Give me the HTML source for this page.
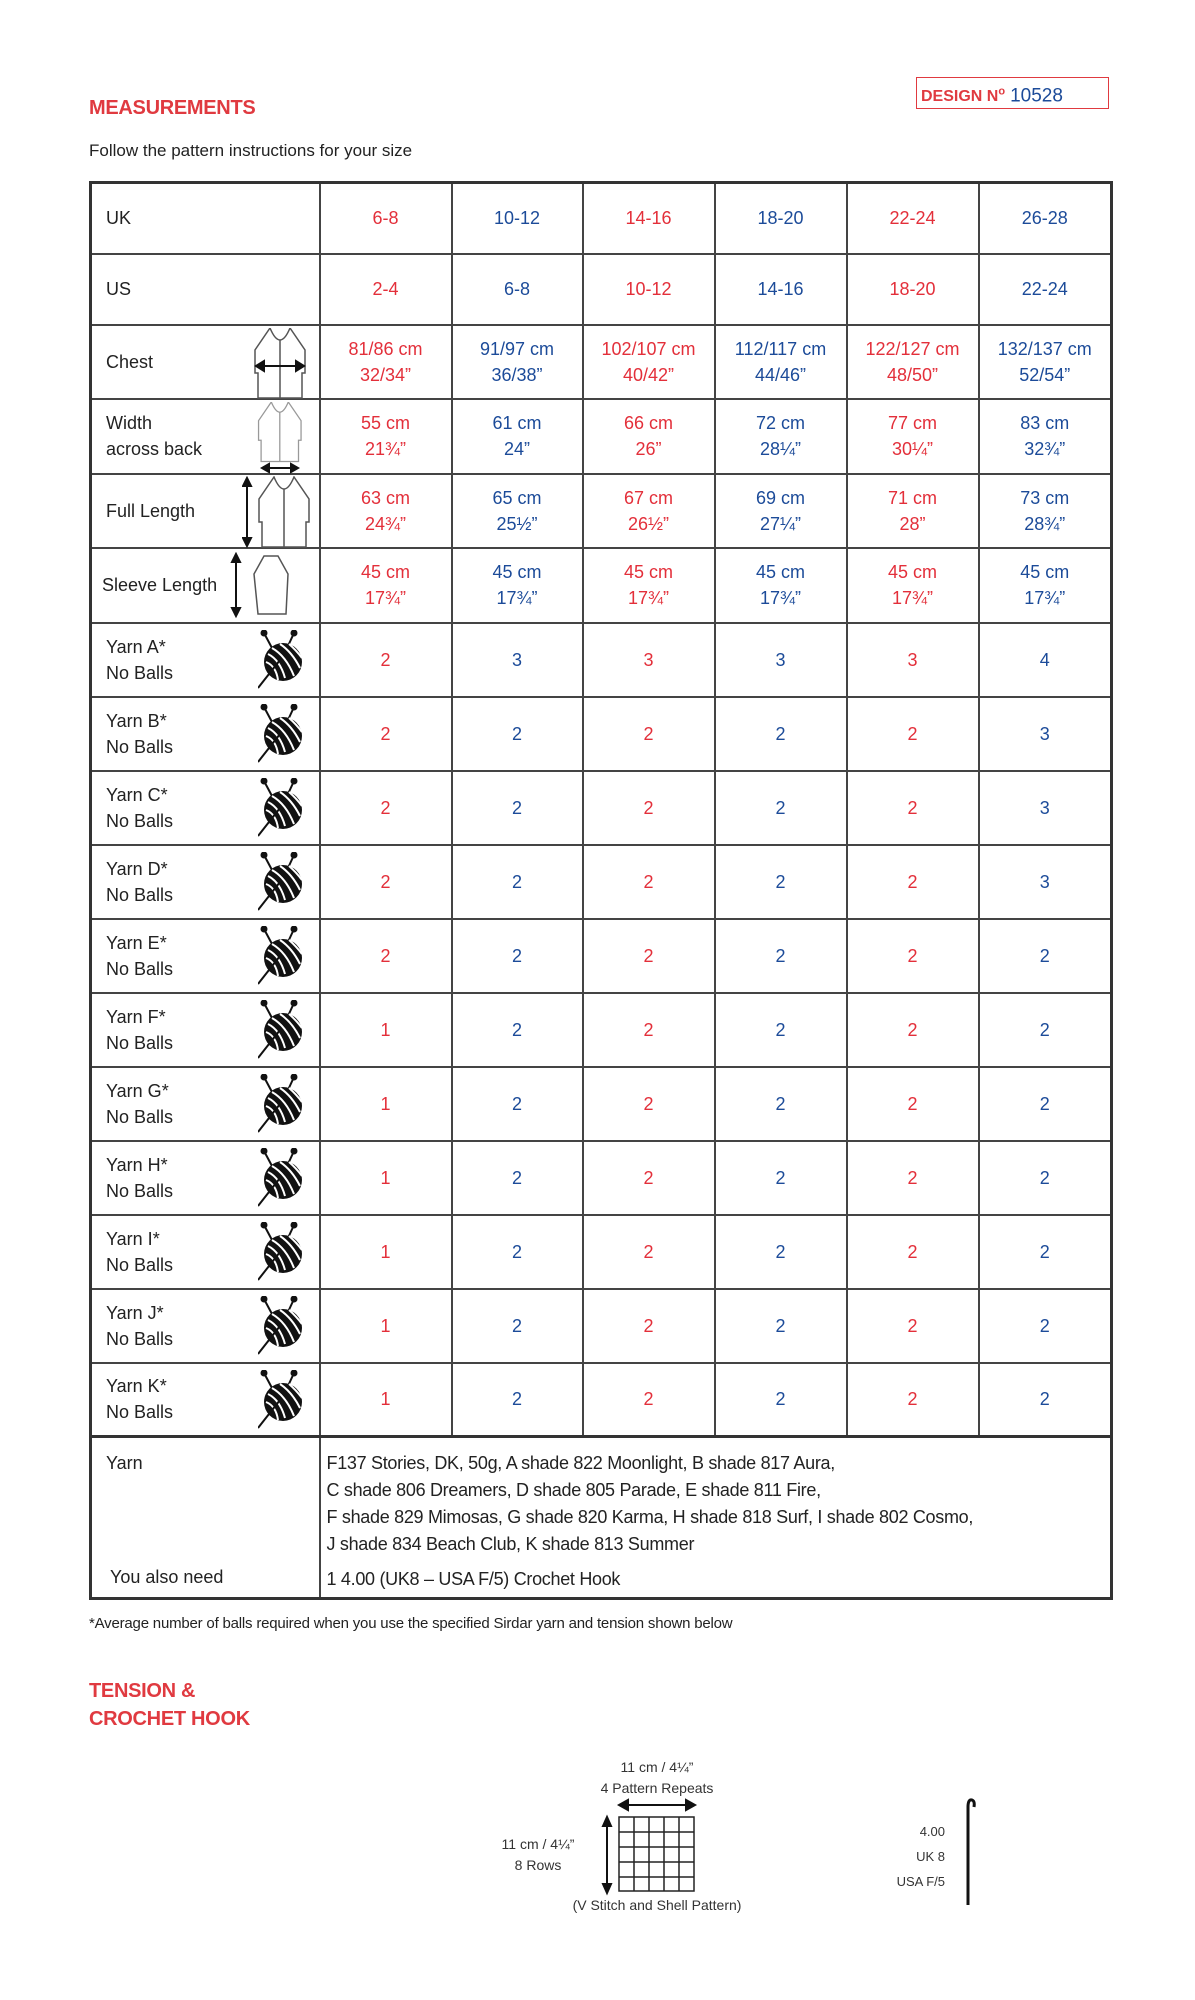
<!DOCTYPE html>
<html><head><meta charset="utf-8">
<style>
*{margin:0;padding:0;box-sizing:border-box}
body{width:1195px;height:2000px;background:#fff;position:relative;font-family:"Liberation Sans",sans-serif;color:#222;overflow:hidden}
.abs{position:absolute}
.h{color:#e03a40;font-weight:bold;font-size:20px;letter-spacing:-0.3px}
table{position:absolute;left:89px;top:181px;width:1021px;border-collapse:collapse;border:3px solid #333;table-layout:fixed}
td{border:2px solid #444;text-align:center;vertical-align:middle;font-size:18px;line-height:26px;height:74px;padding:0}
tr.s td{height:71px}
td.l{text-align:left;padding-left:14px;position:relative;color:#222}
.r{color:#e32f3a}.b{color:#1c4b99}
td svg{position:absolute}
</style></head><body>
<svg width="0" height="0" style="position:absolute">
<defs>
<g id="ball">
<line x1="6" y1="3" x2="14" y2="18" stroke="#111" stroke-width="2"/>
<line x1="36" y1="3" x2="30" y2="16" stroke="#111" stroke-width="2"/>
<circle cx="6" cy="3" r="3.5" fill="#111"/><circle cx="36" cy="3" r="3.5" fill="#111"/>
<circle cx="25" cy="32" r="19" fill="#111"/>
<path d="M10,24 Q22,30 27,48 M8,32 Q18,36 20,50 M14,18 Q28,26 36,46 M22,14 Q34,22 42,38 M31,14 Q38,20 44,28" stroke="#fff" stroke-width="2" fill="none"/>
<line x1="0" y1="58" x2="22" y2="30" stroke="#111" stroke-width="2"/>
</g>
<g id="cardi">
<path d="M18,0 L3,22 L3,45 L6,45 L6,70 L50,70 L50,45 L53,45 L53,22 L38,0 Q28,24 18,0 Z M28,12 L28,70" fill="none" stroke-width="1.5"/>
</g>
</defs></svg>

<div class="abs h" style="left:89px;top:97px">MEASUREMENTS</div>
<div class="abs" style="left:916px;top:77px;width:193px;height:32px;border:1.5px solid #e03a40;font-size:18px;line-height:29px;padding-left:4px"><span style="color:#e03a40;font-weight:bold;font-size:16px">DESIGN N<sup style="font-size:11px">o</sup></span> <span style="color:#1c4b99;font-size:19px">10528</span></div>
<div class="abs" style="left:89px;top:141px;font-size:17px">Follow the pattern instructions for your size</div>

<table>
<colgroup><col style="width:229px"><col style="width:132px"><col style="width:131px"><col style="width:132px"><col style="width:132px"><col style="width:132px"><col style="width:133px"></colgroup>
<tr class="s"><td class="l">UK</td><td class="r">6-8</td><td class="b">10-12</td><td class="r">14-16</td><td class="b">18-20</td><td class="r">22-24</td><td class="b">26-28</td></tr>
<tr class="s"><td class="l">US</td><td class="r">2-4</td><td class="b">6-8</td><td class="r">10-12</td><td class="b">14-16</td><td class="r">18-20</td><td class="b">22-24</td></tr>
<tr><td class="l">Chest<svg style="left:160px;top:2px" width="60" height="72"><use href="#cardi" stroke="#555"/><path d="M8,38 L48,38 M4,38 l8,-5 v10 z M52,38 l-8,-5 v10 z" stroke="#111" stroke-width="2" fill="#111"/></svg></td><td class="r">81/86 cm<br>32/34”</td><td class="b">91/97 cm<br>36/38”</td><td class="r">102/107 cm<br>40/42”</td><td class="b">112/117 cm<br>44/46”</td><td class="r">122/127 cm<br>48/50”</td><td class="b">132/137 cm<br>52/54”</td></tr>
<tr><td class="l" style="height:75px">Width<br>across back<svg style="left:160px;top:2px" width="60" height="72"><g transform="translate(4,0) scale(0.85)"><use href="#cardi" stroke="#999"/></g><path d="M14,66 L42,66 M10,66 l7,-4 v8 z M46,66 l-7,-4 v8 z" stroke="#111" stroke-width="2" fill="#111"/></svg></td><td class="r">55 cm<br>21¾”</td><td class="b">61 cm<br>24”</td><td class="r">66 cm<br>26”</td><td class="b">72 cm<br>28¼”</td><td class="r">77 cm<br>30¼”</td><td class="b">83 cm<br>32¾”</td></tr>
<tr><td class="l" style="height:74px">Full Length<svg style="left:150px;top:1px" width="75" height="72"><g transform="translate(14,1)"><use href="#cardi" stroke="#555"/></g><path d="M5,8 L5,64 M5,2 l-4,8 h8 z M5,70 l-4,-8 h8 z" stroke="#111" stroke-width="2" fill="#111"/></svg></td><td class="r">63 cm<br>24¾”</td><td class="b">65 cm<br>25½”</td><td class="r">67 cm<br>26½”</td><td class="b">69 cm<br>27¼”</td><td class="r">71 cm<br>28”</td><td class="b">73 cm<br>28¾”</td></tr>
<tr><td class="l" style="height:75px;padding-left:10px">Sleeve Length<svg style="left:138px;top:3px" width="90" height="70"><path d="M6,8 L6,58 M6,2 l-4,8 h8 z M6,64 l-4,-8 h8 z" stroke="#111" stroke-width="2" fill="#111"/><path d="M34,4 L48,4 L58,22 L56,62 L28,62 L24,22 Z" fill="none" stroke="#555" stroke-width="1.5"/></svg></td><td class="r">45 cm<br>17¾”</td><td class="b">45 cm<br>17¾”</td><td class="r">45 cm<br>17¾”</td><td class="b">45 cm<br>17¾”</td><td class="r">45 cm<br>17¾”</td><td class="b">45 cm<br>17¾”</td></tr>
<tr><td class="l">Yarn A*<br>No Balls<svg style="left:166px;top:6px" width="50" height="62"><use href="#ball"/></svg></td><td class="r">2</td><td class="b">3</td><td class="r">3</td><td class="b">3</td><td class="r">3</td><td class="b">4</td></tr>
<tr><td class="l">Yarn B*<br>No Balls<svg style="left:166px;top:6px" width="50" height="62"><use href="#ball"/></svg></td><td class="r">2</td><td class="b">2</td><td class="r">2</td><td class="b">2</td><td class="r">2</td><td class="b">3</td></tr>
<tr><td class="l">Yarn C*<br>No Balls<svg style="left:166px;top:6px" width="50" height="62"><use href="#ball"/></svg></td><td class="r">2</td><td class="b">2</td><td class="r">2</td><td class="b">2</td><td class="r">2</td><td class="b">3</td></tr>
<tr><td class="l">Yarn D*<br>No Balls<svg style="left:166px;top:6px" width="50" height="62"><use href="#ball"/></svg></td><td class="r">2</td><td class="b">2</td><td class="r">2</td><td class="b">2</td><td class="r">2</td><td class="b">3</td></tr>
<tr><td class="l">Yarn E*<br>No Balls<svg style="left:166px;top:6px" width="50" height="62"><use href="#ball"/></svg></td><td class="r">2</td><td class="b">2</td><td class="r">2</td><td class="b">2</td><td class="r">2</td><td class="b">2</td></tr>
<tr><td class="l">Yarn F*<br>No Balls<svg style="left:166px;top:6px" width="50" height="62"><use href="#ball"/></svg></td><td class="r">1</td><td class="b">2</td><td class="r">2</td><td class="b">2</td><td class="r">2</td><td class="b">2</td></tr>
<tr><td class="l">Yarn G*<br>No Balls<svg style="left:166px;top:6px" width="50" height="62"><use href="#ball"/></svg></td><td class="r">1</td><td class="b">2</td><td class="r">2</td><td class="b">2</td><td class="r">2</td><td class="b">2</td></tr>
<tr><td class="l">Yarn H*<br>No Balls<svg style="left:166px;top:6px" width="50" height="62"><use href="#ball"/></svg></td><td class="r">1</td><td class="b">2</td><td class="r">2</td><td class="b">2</td><td class="r">2</td><td class="b">2</td></tr>
<tr><td class="l">Yarn I*<br>No Balls<svg style="left:166px;top:6px" width="50" height="62"><use href="#ball"/></svg></td><td class="r">1</td><td class="b">2</td><td class="r">2</td><td class="b">2</td><td class="r">2</td><td class="b">2</td></tr>
<tr><td class="l">Yarn J*<br>No Balls<svg style="left:166px;top:6px" width="50" height="62"><use href="#ball"/></svg></td><td class="r">1</td><td class="b">2</td><td class="r">2</td><td class="b">2</td><td class="r">2</td><td class="b">2</td></tr>
<tr><td class="l">Yarn K*<br>No Balls<svg style="left:166px;top:6px" width="50" height="62"><use href="#ball"/></svg></td><td class="r">1</td><td class="b">2</td><td class="r">2</td><td class="b">2</td><td class="r">2</td><td class="b">2</td></tr>
<tr><td class="l" style="height:162px;border-top:3px solid #333;vertical-align:top;padding-top:12px">Yarn<div style="position:absolute;left:18px;top:126px">You also need</div></td>
<td colspan="6" style="text-align:left;vertical-align:top;padding:12px 0 0 6px;border-top:3px solid #333;line-height:27px;font-size:18px;letter-spacing:-0.3px">F137 Stories, DK, 50g, A shade 822 Moonlight, B shade 817 Aura,<br>C shade 806 Dreamers, D shade 805 Parade, E shade 811 Fire,<br>F shade 829 Mimosas, G shade 820 Karma, H shade 818 Surf, I shade 802 Cosmo,<br>J shade 834 Beach Club, K shade 813 Summer<div style="margin-top:8px">1 4.00 (UK8 – USA F/5) Crochet Hook</div></td></tr>
</table>

<div class="abs" style="left:89px;top:1615px;font-size:15px;letter-spacing:-0.2px">*Average number of balls required when you use the specified Sirdar yarn and tension shown below</div>
<div class="abs h" style="left:89px;top:1677px;line-height:28px">TENSION &amp;<br>CROCHET HOOK</div>

<div class="abs" style="left:557px;top:1757px;width:200px;text-align:center;font-size:14px;line-height:21px;color:#333">11 cm / 4¼”<br>4 Pattern Repeats</div>
<svg class="abs" style="left:597px;top:1795px" width="110" height="110">
<path d="M26,10 L94,10 M22,10 l9,-5 v10 z M98,10 l-9,-5 v10 z" stroke="#111" stroke-width="2" fill="#111"/>
<path d="M10,28 L10,92 M10,22 l-4,9 h8 z M10,98 l-4,-9 h8 z" stroke="#111" stroke-width="2" fill="#111"/>
<g stroke="#222" stroke-width="1.5" fill="none"><rect x="22" y="22" width="75" height="74"/>
<path d="M37,22V96M52,22V96M67,22V96M82,22V96M22,37H97M22,52H97M22,67H97M22,82H97"/></g>
</svg>
<div class="abs" style="left:478px;top:1834px;width:120px;text-align:center;font-size:14px;line-height:21px;color:#333">11 cm / 4¼”<br>8 Rows</div>
<div class="abs" style="left:527px;top:1897px;width:260px;text-align:center;font-size:14px;color:#333">(V Stitch and Shell Pattern)</div>
<div class="abs" style="left:857px;top:1819px;width:88px;text-align:right;font-size:13px;line-height:25px;color:#333">4.00<br>UK 8<br>USA F/5</div>
<svg class="abs" style="left:959px;top:1795px" width="20" height="115"><path d="M9,110 L9,12 Q9,4 13,5 Q16,6 15,12" stroke="#111" stroke-width="3" fill="none"/></svg>
</body></html>
